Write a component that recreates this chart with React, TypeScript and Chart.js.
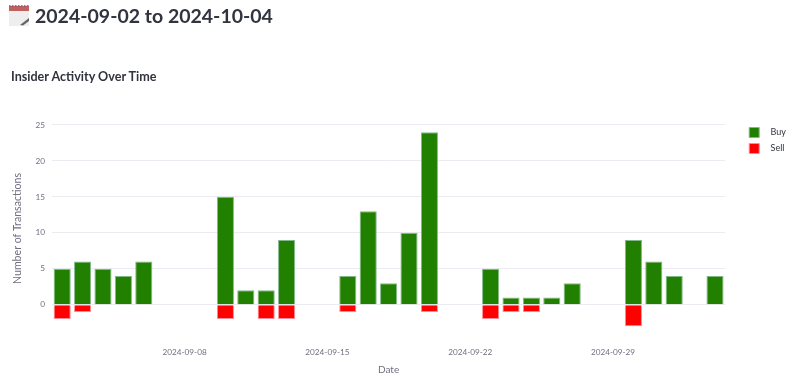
import React, { useEffect, useRef } from "react";
import { Chart, registerables } from "chart.js";

Chart.register(...registerables);

const dates = [
  "2024-09-02","2024-09-03","2024-09-04","2024-09-05","2024-09-06","2024-09-07","2024-09-08",
  "2024-09-09","2024-09-10","2024-09-11","2024-09-12","2024-09-13","2024-09-14","2024-09-15",
  "2024-09-16","2024-09-17","2024-09-18","2024-09-19","2024-09-20","2024-09-21","2024-09-22",
  "2024-09-23","2024-09-24","2024-09-25","2024-09-26","2024-09-27","2024-09-28","2024-09-29",
  "2024-09-30","2024-10-01","2024-10-02","2024-10-03","2024-10-04",
];
const buy = [5,6,5,4,6,null,null,null,15,2,2,9,null,null,4,13,3,10,24,null,null,5,1,1,1,3,null,null,9,6,4,null,4];
const sell = [-2,-1,null,null,null,null,null,null,-2,null,-2,-2,null,null,-1,null,null,null,-1,null,null,-2,-1,-1,null,null,null,null,-3,null,null,null,null];
const shownDates = ["2024-09-08","2024-09-15","2024-09-22","2024-09-29"];
const yTicks = [0,5,10,15,20,25];

const FONT = 'Lato, "Noto Sans", sans-serif';

export default function App() {
  const ref = useRef<HTMLCanvasElement>(null);
  useEffect(() => {
    document.body.style.margin = "0";
    document.body.style.overflow = "hidden";
    const chart = new Chart(ref.current!, {
      type: "bar",
      data: {
        labels: dates,
        datasets: [
          { label: "Buy", data: buy, xAxisID: "x", yAxisID: "y", backgroundColor: "#228000", borderColor: "#84b88c", borderWidth: 1 },
          { label: "Sell", data: sell, xAxisID: "x", yAxisID: "y", backgroundColor: "#ff0000", borderColor: "#ff8c96", borderWidth: 1 },
        ],
      } as any,
      options: {
        animation: false,
        responsive: false,
        datasets: { bar: { categoryPercentage: 1, barPercentage: 0.84 } },
        layout: { padding: { top: 121.5, left: 11, right: 4, bottom: 14 } },
        plugins: {
          tooltip: { enabled: false },
          legend: {
            position: "right",
            align: "start",
            labels: {
              boxWidth: 10, boxHeight: 10, padding: 6,
              color: "#31333f",
              font: { family: FONT, size: 9 },
              generateLabels: (c: any) =>
                Chart.defaults.plugins.legend.labels.generateLabels(c).map((l: any) => ({ ...l, text: "   " + l.text })),
            },
          },
        },
        scales: {
          x: {
            stacked: true,
            border: { display: false },
            grid: { display: false },
            afterFit: (s: any) => { s.height = 42.5; },
            ticks: {
              autoSkip: false, maxRotation: 0, padding: 6,
              color: "#6f6f82",
              font: { family: FONT, size: 8.2 },
              callback: (_v: any, i: number) => (shownDates.includes(dates[i]) ? dates[i] : ""),
            },
            title: { display: true, text: "Date", color: "#6f6f82", font: { family: FONT, size: 10 }, padding: { top: 6, bottom: 0 } },
          },
          y: {
            stacked: true,
            min: -4,
            max: 25.2,
            border: { display: false },
            grid: { color: "#ebebf1", lineWidth: 1, drawTicks: false },
            afterFit: (s: any) => { s.width = 41; },
            afterBuildTicks: (s: any) => { s.ticks = yTicks.map((value) => ({ value })); },
            ticks: { padding: 7, color: "#6f6f82", font: { family: FONT, size: 8.2 } },
            title: { display: true, text: "Number of Transactions", color: "#6f6f82", font: { family: FONT, size: 10.6 }, padding: { top: 0, bottom: 0 } },
          },
          topGutter: {
            type: "category",
            position: "top",
            display: true,
            border: { display: false },
            grid: { display: false, drawOnChartArea: false },
            ticks: { display: false },
            afterFit: (s: any) => { s.height = 2; },
          },
          gutter: {
            type: "linear",
            position: "right",
            display: true,
            border: { display: false },
            grid: { display: false, drawOnChartArea: false },
            ticks: { display: false },
            afterFit: (s: any) => { s.width = 18; },
          },
        },
      },
    } as any);
    return () => chart.destroy();
  }, []);
  return (
    <div style={{ position: "relative", width: 800, height: 390, background: "#fff", overflow: "hidden" }}>
      <canvas ref={ref} width={800} height={390} style={{ position: "absolute", left: 0, top: 0, display: "block" }} />
      <svg width="21" height="24" style={{ position: "absolute", left: 9, top: 3 }}>
        <rect x="0" y="2" width="20" height="21" fill="#eeeeee" />
        <rect x="0" y="3" width="20" height="5" fill="#c0605f" />
        <path d="M0 3 H20" stroke="#8a5a5a" strokeWidth="1.5" strokeDasharray="1.5 1.5" />
        <path d="M11 22 L20 15 L20 18 L14 22.5 Z" fill="#666" />
      </svg>
      <div style={{ position: "absolute", left: 35, top: 4, fontFamily: FONT, fontWeight: 700, fontSize: 19.5, color: "#31333f", whiteSpace: "nowrap" }}>2024-09-02 to 2024-10-04</div>
      <div style={{ position: "absolute", left: 11, top: 69, fontFamily: FONT, fontWeight: 700, fontSize: 12.6, color: "#31333f", whiteSpace: "nowrap" }}>Insider Activity Over Time</div>
    </div>
  );
}
